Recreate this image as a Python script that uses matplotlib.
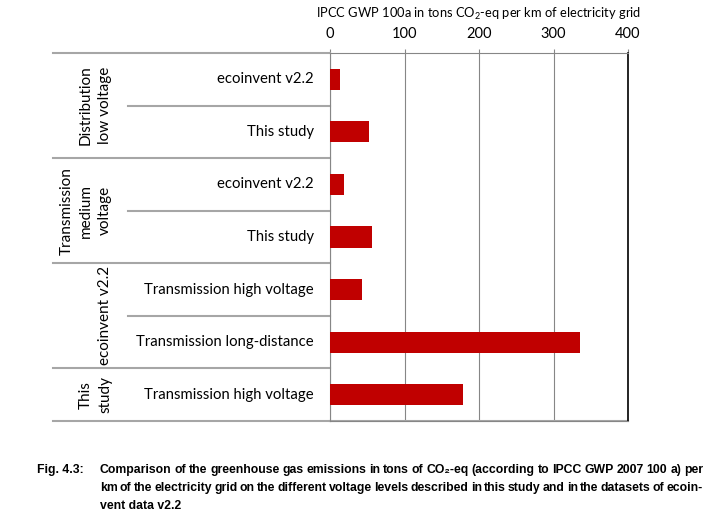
import numpy as np
import matplotlib
matplotlib.use("Agg")
import matplotlib.pyplot as plt

plt.rcParams['font.family'] = ['Lato', 'DejaVu Sans']
plt.rcParams['mathtext.fontset'] = 'custom'
plt.rcParams['mathtext.rm'] = 'Lato'
plt.rcParams['mathtext.it'] = 'Lato:italic'
plt.rcParams['mathtext.bf'] = 'Lato:bold'

# data
labels = ["ecoinvent v2.2", "This study", "ecoinvent v2.2", "This study",
          "Transmission high voltage", "Transmission long-distance",
          "Transmission high voltage"]
values = [13, 53, 19, 57, 43, 335, 178]
groups = ["Distribution\nlow voltage", "Transmission\nmedium\nvoltage",
          "ecoinvent v2.2", "This\nstudy"]
group_sizes = [2, 2, 2, 1]
xticks = [0, 100, 200, 300, 400]
title = "IPCC GWP 100a in tons CO$_2$-eq per km of electricity grid"
caption_lines = [
    "Comparison of the greenhouse gas emissions in tons of CO\u2082-eq (according to IPCC GWP 2007 100 a) per",
    "km of the electricity grid on the different voltage levels described in this study and in the datasets of ecoin-",
    "vent data v2.2",
]

W, H = 716, 524
fig = plt.figure(figsize=(W / 100, H / 100), dpi=100)
ax = fig.add_axes([330 / W, 1 - 421 / H, 298 / W, 368 / H])

y = np.arange(len(values))
ax.barh(y, values, height=0.4, color='#C00000', zorder=3)
ax.set_ylim(len(values) - 0.5, -0.5)
ax.set_xlim(0, 400)
ax.set_yticks([])
ax.set_xticks(xticks)
ax.xaxis.tick_top()
ax.xaxis.set_label_position('top')
ax.tick_params(axis='x', length=3, width=0.8, color='#868686', pad=6,
               labelsize=10.5)
ax.set_xlabel(title, fontsize=9.3, labelpad=6)
ax.grid(axis='x', color='#868686', lw=0.8, zorder=0)

for s in ['top', 'left', 'bottom']:
    ax.spines[s].set_color('#868686')
    ax.spines[s].set_linewidth(0.8)
ax.spines['right'].set_color('black')
ax.spines['right'].set_linewidth(1.2)

# category labels and separators
tr = ax.get_yaxis_transform()
x_out = (53 - 330) / 298
x_in = (128 - 330) / 298
x_lab = (314 - 330) / 298
for i, lab in enumerate(labels):
    ax.text(x_lab, i, lab, transform=tr, ha='right', va='center', fontsize=10.7)

start = 0
bounds = [-0.5]
for g, n in zip(groups, group_sizes):
    for k in range(1, n):
        ax.plot([x_in, 0], [start + k - 0.5] * 2, transform=tr, color='#A6A6A6',
                lw=1.5, clip_on=False)
    mid = start + (n - 1) / 2
    ax.text((112 - 330) / 298, mid, g, transform=tr, rotation=90, ha='right',
            va='center', multialignment='center', fontsize=11,
            linespacing=1.45)
    start += n
    bounds.append(start - 0.5)
for b in bounds:
    ax.plot([x_out, 0], [b, b], transform=tr, color='#A6A6A6', lw=1.5,
            clip_on=False)
ax.plot([0, 1], [bounds[-1]] * 2, transform=tr, color='#A6A6A6', lw=1.5,
        clip_on=False)

# caption, justified
cap_font = dict(family=['Liberation Sans Narrow', 'Liberation Sans', 'DejaVu Sans'],
                weight='bold', fontsize=8.8)
fig.text(37 / W, 1 - 470 / H, "Fig. 4.3:", va='center', ha='left', **cap_font)
renderer = fig.canvas.get_renderer()
x0, x1 = 100, 703
for li, line in enumerate(caption_lines):
    yy = 1 - (470 + li * 18) / H
    if li == len(caption_lines) - 1:
        fig.text(x0 / W, yy, line, va='center', ha='left', **cap_font)
        continue
    words = line.split(' ')
    objs = [fig.text(0, yy, w, va='center', ha='left', **cap_font) for w in words]
    widths = [o.get_window_extent(renderer).width for o in objs]
    gap = (x1 - x0 - sum(widths)) / (len(words) - 1)
    xx = x0
    for o, w in zip(objs, widths):
        o.set_x(xx / W)
        xx += w + gap

fig.savefig("out.png", dpi=100)
